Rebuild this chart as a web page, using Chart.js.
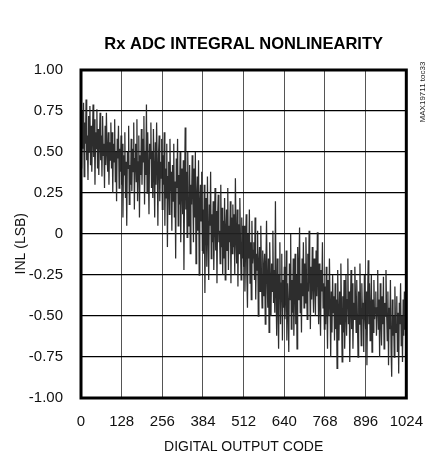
<!DOCTYPE html>
<html>
<head>
<meta charset="utf-8">
<script src="https://cdn.jsdelivr.net/npm/chart.js@4/dist/chart.umd.min.js"></script>
<style>
  html, body { margin: 0; padding: 0; background: #fff; }
  #wrap { width: 438px; height: 460px; }
</style>
</head>
<body>
<div id="wrap"><canvas id="c" width="438" height="460"></canvas></div>
<script>
// INL (LSB), one value every CODE_STEP output codes
const CODE_STEP = 2;
const inlValues = [
  0.62, 0.40, 0.75, 0.52, 0.80, 0.35, 0.68, 0.55, 0.82, 0.45, 0.60, 0.33, 0.72, 0.50, 0.78, 0.42,
  0.66, 0.38, 0.58, 0.79, 0.47, 0.70, 0.30, 0.62, 0.52, 0.76, 0.40, 0.64, 0.36, 0.57, 0.74, 0.45,
  0.60, 0.35, 0.72, 0.48, 0.55, 0.28, 0.66, 0.42, 0.74, 0.50, 0.38, 0.62, 0.30, 0.56, 0.45, 0.68,
  0.40, 0.62, 0.25, 0.55, 0.44, 0.70, 0.32, 0.50, 0.20, 0.58, 0.46, 0.66, 0.28, 0.52, 0.38, 0.60,
  0.30, 0.55, 0.10, 0.48, 0.36, 0.62, 0.22, 0.44, 0.05, 0.50, 0.40, 0.66, 0.18, 0.42, 0.30, 0.58,
  0.26, 0.52, 0.38, 0.68, 0.15, 0.46, 0.55, 0.32, 0.70, 0.20, 0.44, 0.60, 0.10, 0.48, 0.36, 0.64,
  0.30, 0.58, 0.44, 0.72, 0.18, 0.50, 0.36, 0.79, 0.25, 0.62, 0.40, 0.12, 0.55, 0.46, 0.68, 0.28,
  0.50, 0.22, 0.64, 0.38, 0.10, 0.56, 0.30, 0.68, 0.42, 0.05, 0.48, 0.60, 0.20, 0.44, 0.34, 0.58,
  0.15, 0.48, 0.30, 0.62, 0.05, 0.40, 0.22, 0.55, -0.08, 0.35, 0.44, 0.12, 0.58, 0.26, 0.38, 0.02,
  0.42, 0.20, 0.55, 0.10, 0.32, -0.15, 0.46, 0.28, 0.58, 0.05, 0.36, 0.18, 0.50, -0.05, 0.30, 0.40,
  0.12, 0.45, -0.22, 0.28, 0.65, 0.15, 0.38, -0.02, 0.50, 0.22, 0.05, 0.42, -0.12, 0.30, 0.18, 0.48,
  0.25, -0.05, 0.40, 0.10, 0.50, -0.18, 0.22, 0.35, 0.02, 0.45, -0.25, 0.18, 0.30, 0.08, 0.38, -0.10,
  0.15, -0.12, 0.30, -0.36, 0.08, 0.22, -0.20, 0.35, 0.00, -0.28, 0.18, 0.05, 0.38, -0.15, 0.12, -0.05,
  0.20, -0.22, 0.05, 0.28, -0.10, 0.14, -0.30, 0.10, 0.24, -0.05, 0.02, -0.18, 0.30, -0.08, 0.16, -0.25,
  0.08, -0.15, 0.22, -0.28, 0.02, 0.15, -0.10, 0.28, -0.22, 0.05, -0.05, 0.20, -0.30, 0.10, -0.12, 0.18,
  -0.08, 0.12, -0.25, 0.34, -0.02, -0.18, 0.15, -0.32, 0.06, -0.12, 0.22, -0.05, -0.28, 0.10, -0.15, 0.05,
  -0.20, 0.05, -0.35, -0.08, 0.12, -0.25, -0.45, 0.00, -0.15, 0.15, -0.30, -0.05, -0.40, 0.08, -0.18, -0.10,
  -0.05, -0.28, 0.10, -0.40, -0.12, -0.22, 0.02, -0.50, -0.18, -0.08, -0.35, 0.05, -0.25, -0.45, -0.10, -0.20,
  -0.38, -0.12, -0.55, -0.20, 0.08, -0.30, -0.45, -0.15, -0.60, -0.05, -0.28, -0.50, -0.18, -0.35, 0.02, -0.42,
  -0.22, -0.48, 0.20, -0.35, -0.62, -0.15, -0.40, -0.70, -0.25, -0.05, -0.55, -0.30, -0.12, -0.65, -0.28, -0.45,
  -0.20, -0.52, -0.38, -0.10, -0.65, -0.30, -0.45, -0.72, -0.18, -0.40, 0.00, -0.58, -0.28, -0.48, -0.15, -0.62,
  -0.35, -0.12, -0.55, -0.25, -0.70, -0.08, -0.40, -0.20, 0.04, -0.48, -0.30, -0.60, -0.15, -0.38, -0.05, -0.45,
  -0.18, -0.42, -0.02, -0.30, -0.52, -0.12, -0.35, 0.02, -0.25, -0.58, -0.20, -0.40, -0.08, -0.32, -0.48, -0.15,
  -0.25, -0.50, -0.10, -0.38, 0.01, -0.28, -0.55, -0.18, -0.42, -0.62, -0.22, -0.35, -0.05, -0.45, -0.30, -0.58,
  -0.32, -0.55, -0.20, -0.45, -0.70, -0.28, -0.50, -0.15, -0.42, -0.75, -0.35, -0.60, -0.25, -0.48, -0.38, -0.65,
  -0.30, -0.58, -0.40, -0.82, -0.22, -0.50, -0.65, -0.35, -0.55, -0.18, -0.45, -0.78, -0.38, -0.60, -0.28, -0.70,
  -0.48, -0.25, -0.62, -0.40, -0.15, -0.55, -0.35, -0.78, -0.45, -0.22, -0.58, -0.30, -0.70, -0.42, -0.52, -0.20,
  -0.38, -0.60, -0.28, -0.50, -0.75, -0.35, -0.55, -0.18, -0.45, -0.68, -0.30, -0.52, -0.42, -0.72, -0.25, -0.48,
  -0.58, -0.35, -0.80, -0.42, -0.16, -0.55, -0.30, -0.65, -0.48, -0.25, -0.72, -0.40, -0.60, -0.28, -0.52, -0.45,
  -0.35, -0.62, -0.45, -0.22, -0.58, -0.40, -0.75, -0.30, -0.52, -0.68, -0.38, -0.55, -0.26, -0.70, -0.42, -0.50,
  -0.22, -0.48, -0.65, -0.35, -0.80, -0.45, -0.58, -0.28, -0.70, -0.87, -0.40, -0.62, -0.50, -0.75, -0.32, -0.55,
  -0.60, -0.38, -0.72, -0.48, -0.85, -0.42, -0.55, -0.30, -0.68, -0.50, -0.78, -0.40, -0.62, -0.35, -0.58, -0.17
];
const xTickValues = [0, 128, 256, 384, 512, 640, 768, 896, 1024];
const yTickValues = [-1.00, -0.75, -0.50, -0.25, 0, 0.25, 0.50, 0.75, 1.00];
const chartTitle = 'Rx ADC INTEGRAL NONLINEARITY';
const xAxisTitle = 'DIGITAL OUTPUT CODE';
const yAxisTitle = 'INL (LSB)';
const sideNote = 'MAX19711 toc33';

const points = inlValues.map((v, i) => ({ x: i * CODE_STEP, y: v }));

const FONT = "'Liberation Sans', Arial, sans-serif";

const framePlugin = {
  id: 'frame',
  afterDraw(chart) {
    const { ctx, chartArea: a } = chart;
    ctx.save();
    ctx.strokeStyle = '#000';
    ctx.lineWidth = 3;
    ctx.strokeRect(a.left, a.top, a.right - a.left, a.bottom - a.top);
    ctx.translate(423, 92);
    ctx.rotate(-Math.PI / 2);
    ctx.fillStyle = '#222';
    ctx.font = "8px " + FONT;
    ctx.textAlign = 'center';
    ctx.textBaseline = 'middle';
    ctx.fillText(sideNote, 0, 0);
    ctx.restore();
  }
};

new Chart(document.getElementById('c'), {
  type: 'line',
  data: {
    datasets: [{
      data: points,
      borderColor: 'rgba(34,34,34,0.95)',
      borderWidth: 1.25,
      pointRadius: 0,
      tension: 0,
      fill: false
    }]
  },
  options: {
    responsive: false,
    animation: false,
    layout: { padding: { left: 0, right: 29, top: 0, bottom: 0 } },
    plugins: {
      legend: { display: false },
      tooltip: { enabled: false },
      title: {
        display: true,
        text: chartTitle,
        fullSize: false,
        color: '#000',
        font: { family: FONT, size: 16.5, weight: 'bold', lineHeight: 1.2 },
        padding: { top: 35, bottom: 15.2 }
      }
    },
    scales: {
      x: {
        type: 'linear',
        min: 0, max: 1024,
        afterBuildTicks(s) { s.ticks = xTickValues.map(v => ({ value: v })); },
        afterFit(s) { s.height = 62; },
        grid: { color: '#555', lineWidth: 1, drawTicks: false },
        border: { display: false },
        ticks: { color: '#111', padding: 15, maxRotation: 0, autoSkip: false,
                 font: { family: FONT, size: 15 },
                 callback: v => String(v) },
        title: { display: true, text: xAxisTitle, color: '#111',
                 font: { family: FONT, size: 14, lineHeight: 1.2 },
                 padding: { top: 0, bottom: 4 } }
      },
      y: {
        type: 'linear',
        min: -1, max: 1,
        afterBuildTicks(s) { s.ticks = yTickValues.map(v => ({ value: v })); },
        afterFit(s) { s.width = 81; },
        grid: { color: '#000', lineWidth: 1.3, drawTicks: false },
        border: { display: false },
        ticks: { color: '#111', padding: 18, autoSkip: false,
                 font: { family: FONT, size: 15 },
                 callback: v => (v === 0 ? '0' : v.toFixed(2)) },
        title: { display: true, text: yAxisTitle + '     ', color: '#111',
                 font: { family: FONT, size: 14, lineHeight: 1.2 },
                 padding: { top: 13, bottom: 0 } }
      }
    }
  },
  plugins: [framePlugin]
});
</script>
</body>
</html>
